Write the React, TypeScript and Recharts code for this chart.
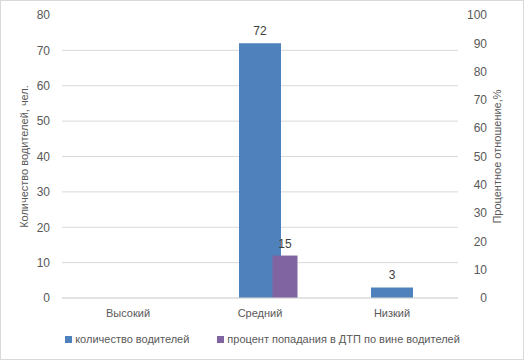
import React from "react";
import {
  BarChart,
  Bar,
  XAxis,
  YAxis,
  CartesianGrid,
  Legend,
  LabelList,
} from "recharts";

const categories = ["Высокий", "Средний", "Низкий"];
const driverCounts = [null, 72, 3];
const accidentPercent = [null, 15, null];
const leftTicks = [0, 10, 20, 30, 40, 50, 60, 70, 80];
const rightTicks = [0, 10, 20, 30, 40, 50, 60, 70, 80, 90, 100];
const gridValues = leftTicks.slice(0, -1);

const data = categories.map((name, i) => ({
  name,
  drivers: driverCounts[i],
  percent: accidentPercent[i],
}));

const BLUE = "#4f81bd";
const PURPLE = "#8064a2";
const TEXT = "#595959";
const GRID = "#d9d9d9";
const FONT = "'Liberation Sans', Arial, sans-serif";
// the secondary series sits to the right of the category centre, overlapping the blue bar
const SHIFT = 24.5;

const ShiftedBar = (props: any) => {
  const { x, y, width, height, fill } = props;
  if (!height) return null;
  return <rect x={x + SHIFT} y={y} width={width} height={height} fill={fill} />;
};

const makeLabel = (shift: number) => (p: any) => {
  const { x, y, width, value } = p;
  if (value == null) return null;
  return (
    <text
      x={x + width / 2 + shift}
      y={y - 8}
      textAnchor="middle"
      fill="#404040"
      fontSize={12}
      fontFamily={FONT}
    >
      {value}
    </text>
  );
};

const LegendContent = () => (
  <div
    style={{
      display: "flex",
      justifyContent: "center",
      gap: 28,
      fontFamily: FONT,
      fontSize: 11,
      color: TEXT,
    }}
  >
    {[
      { c: BLUE, t: "количество водителей" },
      { c: PURPLE, t: "процент попадания в ДТП по вине водителей" },
    ].map((it) => (
      <div key={it.t} style={{ display: "flex", alignItems: "center" }}>
        <span
          style={{ width: 7, height: 7, background: it.c, marginRight: 3, display: "inline-block" }}
        />
        <span>{it.t}</span>
      </div>
    ))}
  </div>
);

export default function App() {
  return (
    <div style={{ position: "absolute", left: 0, top: 0, width: 525, height: 361, background: "#fff" }}>
      <BarChart
        width={525}
        height={361}
        data={data}
        margin={{ top: 15, right: 0, left: 0, bottom: 33 }}
        style={{ fontFamily: FONT }}
      >
        <CartesianGrid
          vertical={false}
          stroke={GRID}
          xAxisId="a"
          yAxisId="left"
          horizontalValues={gridValues}
        />
        <XAxis
          xAxisId="a"
          dataKey="name"
          height={30}
          tickLine={false}
          axisLine={{ stroke: GRID }}
          tickMargin={5}
          tick={{ fill: TEXT, fontSize: 11 }}
        />
        <XAxis xAxisId="b" dataKey="name" hide />
        <YAxis
          yAxisId="left"
          width={62}
          domain={[0, 80]}
          ticks={leftTicks}
          axisLine={false}
          tickLine={false}
          tickMargin={6}
          tick={{ fill: TEXT, fontSize: 12 }}
          label={{
            value: "Количество водителей, чел.",
            angle: -90,
            position: "insideLeft",
            offset: 24,
            style: { textAnchor: "middle", fill: TEXT, fontSize: 11 },
          }}
        />
        <YAxis
          yAxisId="right"
          orientation="right"
          width={67}
          domain={[0, 100]}
          ticks={rightTicks}
          axisLine={false}
          tickLine={false}
          tickMargin={23}
          tick={{ fill: TEXT, fontSize: 12, textAnchor: "end" }}
          label={{
            value: "Процентное отношение,%",
            angle: -90,
            position: "insideRight",
            offset: 28,
            style: { textAnchor: "middle", fill: TEXT, fontSize: 11 },
          }}
        />
        <Bar
          xAxisId="a"
          yAxisId="left"
          dataKey="drivers"
          name="количество водителей"
          fill={BLUE}
          barSize={42}
          isAnimationActive={false}
        >
          <LabelList dataKey="drivers" content={makeLabel(0)} />
        </Bar>
        <Bar
          xAxisId="b"
          yAxisId="right"
          dataKey="percent"
          name="процент попадания в ДТП по вине водителей"
          fill={PURPLE}
          barSize={25}
          shape={ShiftedBar}
          isAnimationActive={false}
        >
          <LabelList dataKey="percent" content={makeLabel(SHIFT)} />
        </Bar>
        <Legend
          layout="horizontal"
          verticalAlign="middle"
          align="center"
          content={LegendContent}
          wrapperStyle={{ top: 333, left: 0, width: 525 }}
        />
      </BarChart>
      <div
        style={{
          position: "absolute",
          left: 0,
          top: 0,
          width: 524,
          height: 360,
          border: "1px solid #d9d9d9",
          boxSizing: "border-box",
          pointerEvents: "none",
        }}
      />
    </div>
  );
}
